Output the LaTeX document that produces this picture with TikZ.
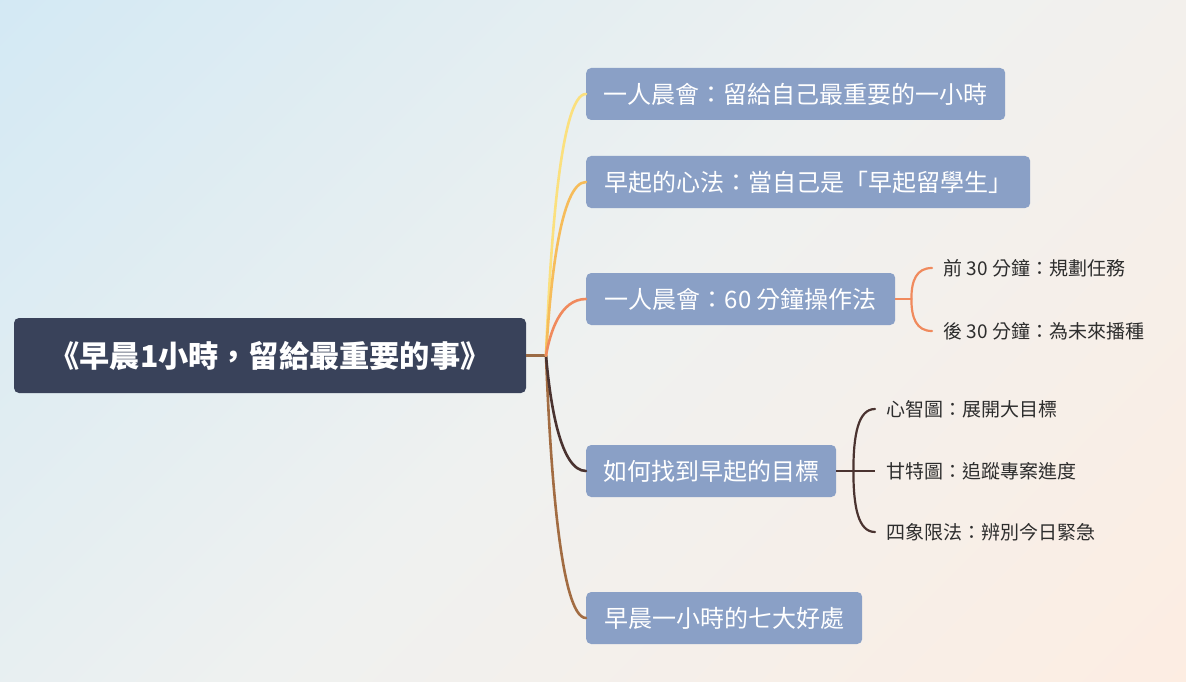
\documentclass[tikz,border=0pt]{standalone}
\usepackage{fontspec}
\setmainfont{Noto Sans CJK TC}
\usetikzlibrary{calc}
\definecolor{bgA}{RGB}{211,233,244}
\definecolor{bgM}{RGB}{239,241,240}
\definecolor{bgB}{RGB}{253,237,226}
\definecolor{rootfill}{RGB}{57,66,90}
\definecolor{boxfill}{RGB}{138,160,198}
\definecolor{subtext}{RGB}{45,45,45}
\definecolor{cone}{RGB}{251,224,126}
\definecolor{ctwo}{RGB}{246,188,90}
\definecolor{cthree}{RGB}{240,138,93}
\definecolor{cfour}{RGB}{74,51,48}
\definecolor{cfive}{RGB}{162,108,66}
\definecolor{croot}{RGB}{155,107,69}
\begin{document}
\begin{tikzpicture}[x=1pt,y=-1pt,
  rootbox/.style={fill=rootfill, rounded corners=5pt, text=white,
    font=\fontsize{30.2}{33}\selectfont\bfseries, minimum height=75pt,
    text height=23pt, text depth=0pt, inner sep=0pt},
  branchbox/.style={fill=boxfill, rounded corners=5pt, text=white, anchor=west,
    font=\fontsize{24}{28}\selectfont, minimum height=52pt,
    text height=18.2pt, text depth=0pt, inner sep=0pt},
  subnode/.style={anchor=west, text=subtext, font=\fontsize{19}{22}\selectfont,
    text height=14.4pt, text depth=0pt, inner xsep=11.5pt, inner ysep=0pt},
  mainline/.style={line width=2.6pt, line cap=round},
  subline/.style={line width=2.2pt, line cap=round}
]
\useasboundingbox (0,0) rectangle (1186,682);
\begin{scope}
  \clip (0,0) rectangle (1186,682);
  \begin{scope}[transform canvas={rotate around={-45:(593,341)}}]
    \shade[left color=bgA, right color=bgB, middle color=bgM] (593-670,341-670) rectangle (593+670,341+670);
  \end{scope}
\end{scope}

% root
\node[rootbox, minimum width=512pt] (root) at (270,355.5) {《早晨1小時，留給最重要的事》};

% branches
\node[branchbox, minimum width=419pt] (b1) at (586,94) {一人晨會：留給自己最重要的一小時};
\node[branchbox, minimum width=444pt] (b2) at (586,182) {早起的心法：當自己是「早起留學生」};
\node[branchbox, minimum width=309pt] (b3) at (586,299) {一人晨會：60 分鐘操作法};
\node[branchbox, minimum width=250pt] (b4) at (586,471) {如何找到早起的目標};
\node[branchbox, minimum width=276pt] (b5) at (586,618) {早晨一小時的七大好處};

% sub topics
\node[subnode] (s31) at (932,268) {前 30 分鐘：規劃任務};
\node[subnode] (s32) at (932,331) {後 30 分鐘：為未來播種};
\node[subnode] (s41) at (875,409) {心智圖：展開大目標};
\node[subnode] (s42) at (875,471) {甘特圖：追蹤專案進度};
\node[subnode] (s43) at (875,532) {四象限法：辨別今日緊急};

% trunk
\coordinate (trunk) at (546,355.5);
\draw[mainline, croot, line cap=butt] (root.east) -- (trunk);

\draw[mainline, cfive] (trunk) .. controls ($(trunk)!0.4!(trunk|-b5.west)+(4,0)$) and ($(trunk|-b5.west)+(14,0)$) .. (b5.west);
\draw[mainline, cfour] (trunk) .. controls ($(trunk)!0.4!(trunk|-b4.west)+(4,0)$) and ($(trunk|-b4.west)+(14,0)$) .. (b4.west);
\draw[mainline, cone] (trunk) .. controls ($(trunk)!0.4!(trunk|-b1.west)+(4,0)$) and ($(trunk|-b1.west)+(14,0)$) .. (b1.west);
\draw[mainline, ctwo] (trunk) .. controls ($(trunk)!0.4!(trunk|-b2.west)+(4,0)$) and ($(trunk|-b2.west)+(14,0)$) .. (b2.west);
\draw[mainline, cthree] (trunk) .. controls ($(trunk)!0.4!(trunk|-b3.west)+(4,0)$) and ($(trunk|-b3.west)+(14,0)$) .. (b3.west);

% sub brackets of b3
\coordinate (j3) at ($(b3.east)+(16,0)$);
\draw[subline, cthree, line cap=butt] (b3.east) -- (j3);
\draw[subline, cthree] (j3) .. controls ($(j3)!0.6!(j3|-s31.west)$) and ($(j3|-s31.west)+(5,0)$) .. (s31.west);
\draw[subline, cthree] (j3) .. controls ($(j3)!0.6!(j3|-s32.west)$) and ($(j3|-s32.west)+(5,0)$) .. (s32.west);

% sub brackets of b4
\coordinate (j4) at ($(b4.east)+(17,0)$);
\draw[subline, cfour, line cap=butt] (b4.east) -- (s42.west);
\draw[subline, cfour] (j4) .. controls ($(j4)!0.6!(j4|-s41.west)$) and ($(j4|-s41.west)+(5,0)$) .. (s41.west);
\draw[subline, cfour] (j4) .. controls ($(j4)!0.6!(j4|-s43.west)$) and ($(j4|-s43.west)+(5,0)$) .. (s43.west);
\end{tikzpicture}
\end{document}
